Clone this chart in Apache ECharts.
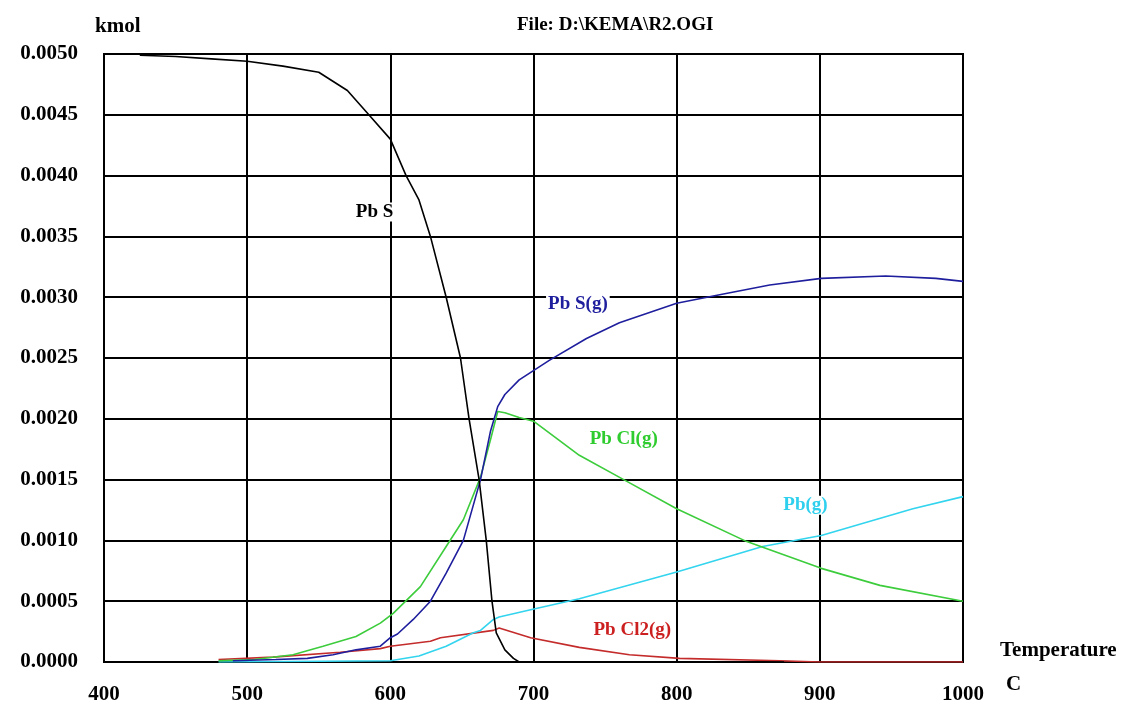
<!DOCTYPE html>
<html>
<head>
<meta charset="utf-8">
<script src="https://cdn.jsdelivr.net/npm/echarts@6/dist/echarts.min.js"></script>
<style>
html,body{margin:0;padding:0;background:#fff;}
#chart{width:1128px;height:708px;}
</style>
</head>
<body>
<div id="chart"></div>
<script>
// Temperature (C) / amount (kmol)
const xTicks = [400, 500, 600, 700, 800, 900, 1000];
const yTicks = [0, 0.0005, 0.001, 0.0015, 0.002, 0.0025, 0.003, 0.0035, 0.004, 0.0045, 0.005];

const pbsT = [425, 450, 475, 500, 525, 550, 570, 585, 600, 611, 620, 628, 639, 649, 655, 662, 667, 671, 674, 680, 686, 690, 875];
const pbsV = [0.00499, 0.00498, 0.00496, 0.00494, 0.0049, 0.00485, 0.0047, 0.0045, 0.0043, 0.0040, 0.0038, 0.0035, 0.0030, 0.0025, 0.0020, 0.0015, 0.0010, 0.0005, 0.00024, 0.0001, 0.00003, 0, 0];

const pbsgT = [490, 520, 542, 560, 576, 593, 600, 605, 616, 628, 639, 651, 663, 670, 675, 680, 690, 711, 737, 760, 800, 830, 865, 901, 946, 981, 1000];
const pbsgV = [0.00001, 0.00002, 0.00003, 0.00006, 0.0001, 0.00013, 0.0002, 0.00023, 0.00035, 0.0005, 0.00073, 0.001, 0.0015, 0.0019, 0.0021, 0.0022, 0.00232, 0.00248, 0.00266, 0.00279, 0.00295, 0.00302, 0.0031, 0.003155, 0.003174, 0.003155, 0.00313];

const pbclT = [480, 505, 532, 553, 576, 593, 602, 621, 639, 651, 663, 670, 675, 680, 690, 700, 732, 763, 800, 849, 901, 942, 1000];
const pbclV = [0.00001, 0.00002, 0.00006, 0.00013, 0.00021, 0.00032, 0.0004, 0.00062, 0.00095, 0.00117, 0.00152, 0.00183, 0.00206, 0.00205, 0.00201, 0.00198, 0.0017, 0.0015, 0.00126, 0.00099, 0.00077, 0.00063, 0.0005];

const pbgT = [480, 600, 620, 639, 658, 663, 672, 676, 698, 732, 800, 860, 901, 965, 1000];
const pbgV = [0, 0.00001, 0.00005, 0.00013, 0.00024, 0.00026, 0.00035, 0.00037, 0.00043, 0.00052, 0.00074, 0.00095, 0.00104, 0.00126, 0.00136];

const pbcl2T = [480, 518, 565, 593, 600, 628, 635, 672, 676, 698, 732, 767, 802, 872, 900, 1000];
const pbcl2V = [0.00002, 0.00004, 0.00008, 0.00011, 0.00013, 0.00017, 0.0002, 0.00026, 0.00028, 0.0002, 0.00012, 0.00006, 0.00003, 0.00001, 0, 0];

// curve labels: [text, T, value, colour]
const curveLabels = [
  ['Pb S', 589, 0.0037, '#000000'],
  ['Pb S(g)', 731, 0.00294, '#1f1f9e'],
  ['Pb Cl(g)', 763, 0.00183, '#2fcc2f'],
  ['Pb(g)', 890, 0.00129, '#2fd0ee'],
  ['Pb Cl2(g)', 769, 0.00026, '#cc2020']
];

const FONT = '"Liberation Serif", "DejaVu Serif", serif';

function pairs(t, v) { return t.map((x, i) => [x, v[i]]); }

function mkSeries(name, t, v, color, idx) {
  const lab = curveLabels[idx];
  return {
    name: name,
    type: 'line',
    data: pairs(t, v),
    symbol: 'none',
    lineStyle: { color: color, width: 1.6 },
    itemStyle: { color: color },
    z: 5,
    markPoint: {
      symbol: 'circle',
      symbolSize: 0,
      silent: true,
      data: [{
        coord: [lab[1], lab[2]],
        label: {
          show: true,
          position: 'inside',
          formatter: lab[0],
          color: lab[3],
          fontFamily: FONT,
          fontWeight: 'bold',
          fontSize: 19,
          backgroundColor: '#ffffff',
          padding: [0, 2]
        }
      }]
    }
  };
}

const chart = echarts.init(document.getElementById('chart'));
chart.setOption({
  animation: false,
  backgroundColor: '#ffffff',
  grid: { left: 104, right: 165, top: 54, bottom: 46, show: true, borderColor: '#000', borderWidth: 2 },
  xAxis: {
    type: 'value', min: 400, max: 1000, interval: 100,
    axisLine: { show: true, lineStyle: { color: '#000', width: 2 } },
    axisTick: { show: false },
    splitLine: { show: true, lineStyle: { color: '#000', width: 2 } },
    axisLabel: { margin: 22, color: '#000', fontFamily: FONT, fontWeight: 'bold', fontSize: 21,
      formatter: v => xTicks.includes(v) ? String(v) : '' }
  },
  yAxis: {
    type: 'value', min: 0, max: 0.005, interval: 0.0005,
    axisLine: { show: true, lineStyle: { color: '#000', width: 2 } },
    axisTick: { show: false },
    splitLine: { show: true, lineStyle: { color: '#000', width: 2 } },
    axisLabel: { margin: 26, color: '#000', fontFamily: FONT, fontWeight: 'bold', fontSize: 21,
      formatter: v => yTicks.some(t => Math.abs(t - v) < 1e-9) ? v.toFixed(4) : '' }
  },
  graphic: [
    { type: 'text', left: 95, top: 16, style: { text: 'kmol', font: 'bold 21px ' + FONT, fill: '#000' } },
    { type: 'text', left: 517, top: 16, style: { text: 'File: D:\\KEMA\\R2.OGI', font: 'bold 19px ' + FONT, fill: '#000' } },
    { type: 'text', left: 1000, top: 640, style: { text: 'Temperature', font: 'bold 21px ' + FONT, fill: '#000' } },
    { type: 'text', left: 1006, top: 674, style: { text: 'C', font: 'bold 21px ' + FONT, fill: '#000' } }
  ],
  series: [
    mkSeries('Pb Cl2(g)', pbcl2T, pbcl2V, '#c42b2b', 4),
    mkSeries('Pb(g)', pbgT, pbgV, '#33d4ee', 3),
    mkSeries('Pb Cl(g)', pbclT, pbclV, '#3ccc3c', 2),
    mkSeries('Pb S(g)', pbsgT, pbsgV, '#1f1f9e', 1),
    mkSeries('Pb S', pbsT, pbsV, '#000000', 0)
  ]
});
</script>
</body>
</html>
